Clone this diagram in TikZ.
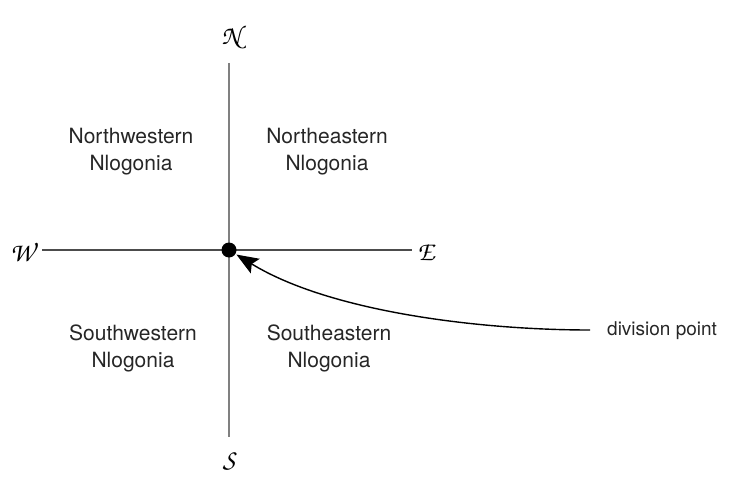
\documentclass[tikz,border=0pt]{standalone}
\usepackage{fontspec}
\setmainfont{TeX Gyre Heros}
\usetikzlibrary{arrows.meta}
\newcommand{\chanc}{\usefont{OT1}{pzc}{mb}{it}}
\begin{document}
\begin{tikzpicture}[x=1pt,y=-1pt,
  vaxis/.style={line width=2.8pt, draw=black!50},
  haxis/.style={line width=2.4pt, draw=black!70},
  region/.style={align=center, font=\fontsize{21}{27}\selectfont, text=black!85},
  dirlabel/.style={font=\fontsize{27}{30}\chanc, inner sep=0pt},
  pointer/.style={line width=1.4pt, -{Stealth[length=22pt,width=17pt,inset=4pt]}, shorten >=1pt}]
\useasboundingbox (0,0) rectangle (730,476);
\coordinate (nend) at (229,63);
\coordinate (send) at (229,437);
\coordinate (wend) at (42,250);
\coordinate (eend) at (412,250);
\draw[vaxis] (nend) -- (send);
\draw[haxis] (wend) -- (eend);
\node[circle, fill=black, minimum size=15pt, inner sep=0pt] (c) at (229,250) {};
\node[dirlabel] (N) at (231,37) {N};
\node[dirlabel] (S) at (229,461) {S};
\node[dirlabel] (W) at (22,252) {W};
\node[dirlabel] (E) at (426,252) {E};
\node[region] (nw) at (131,152) {Northwestern\\Nlogonia};
\node[region] (ne) at (327,152) {Northeastern\\Nlogonia};
\node[region] (sw) at (133,348) {Southwestern\\Nlogonia};
\node[region] (se) at (329,348) {Southeastern\\Nlogonia};
\coordinate (dpend) at (590,330);
\node[anchor=west, font=\fontsize{19}{22}\selectfont, inner sep=0pt, text=black!85] (dp) at (607,331) {division point};
\draw[pointer] (dpend) .. controls (480,330) and (330,312) .. (c);
\end{tikzpicture}
\end{document}
